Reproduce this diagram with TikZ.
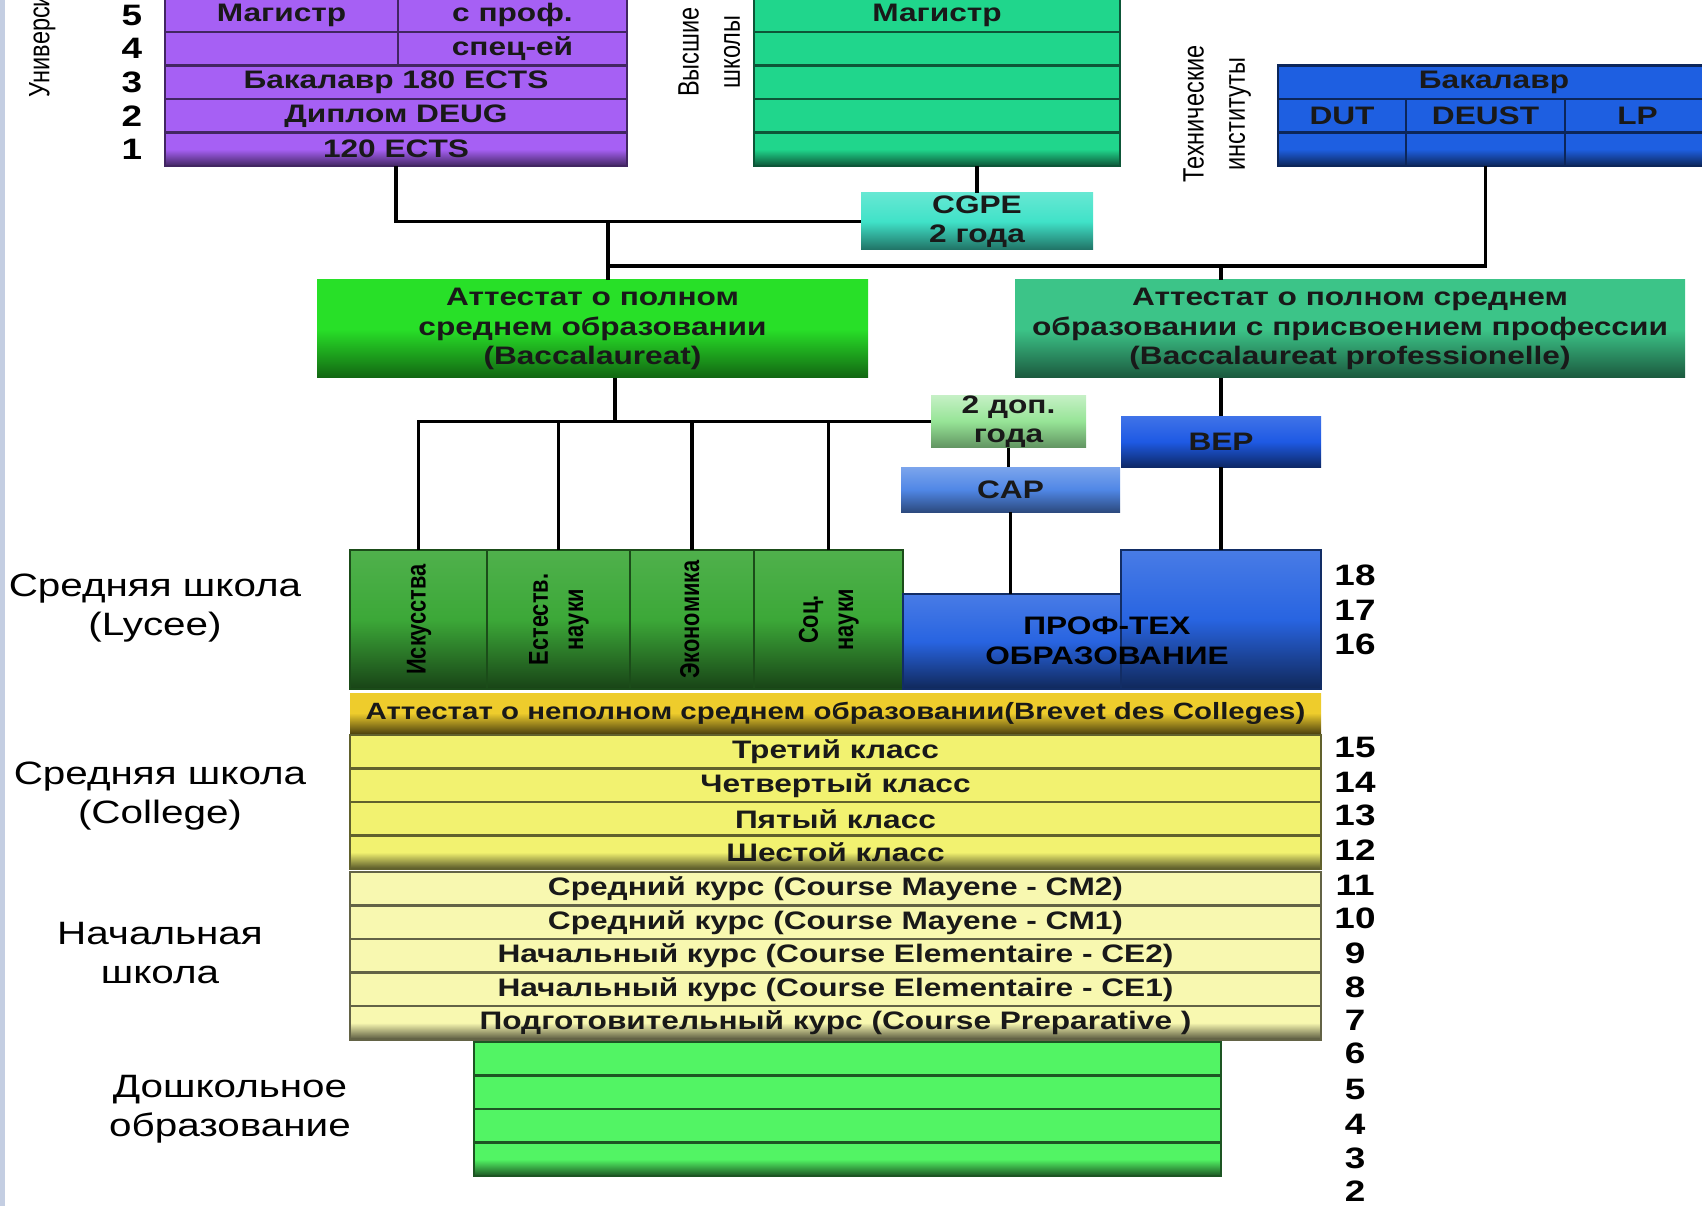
\documentclass[tikz,border=0pt]{standalone}
\usepackage{fontspec}
\usepackage{graphicx}
\setmainfont{Liberation Sans}[FakeStretch=1.25]
\newfontfamily\rotfont{Liberation Sans}
\usepackage{tikz}
\usetikzlibrary{shapes.geometric, arrows}

\definecolor{univc}{RGB}{166,96,244}
\definecolor{vysc}{RGB}{32,214,140}
\definecolor{techc}{RGB}{30,95,225}
\definecolor{cgpec}{RGB}{64,226,200}
\definecolor{attlc}{RGB}{40,224,40}
\definecolor{attrc}{RGB}{60,196,136}
\definecolor{dopc}{RGB}{150,228,150}
\definecolor{capc}{RGB}{80,135,230}
\definecolor{bepc}{RGB}{30,90,228}
\definecolor{lycc}{RGB}{60,168,56}
\definecolor{profc}{RGB}{40,100,225}
\definecolor{brevc}{RGB}{238,204,44}
\definecolor{collc}{RGB}{242,242,112}
\definecolor{primc}{RGB}{248,248,176}
\definecolor{presc}{RGB}{82,244,100}
\definecolor{stripc}{RGB}{196,206,226}

\newcommand{\boxfont}{\fontsize{7.2}{8.4}\selectfont\bfseries}
\newcommand{\brevfont}{\fontsize{6.7}{8}\selectfont\bfseries}
\newcommand{\sidefont}{\fontsize{9.2}{11}\selectfont}
\newcommand{\agefont}{\fontsize{8.4}{10}\selectfont\bfseries}
\newcommand{\vlabel}[1]{\scalebox{1}[1.25]{\rotfont\fontsize{6.7}{9.4}\selectfont\begin{tabular}{@{}c@{}}#1\end{tabular}}}
\newcommand{\vsubject}[1]{\scalebox{1}[1.25]{\rotfont\fontsize{6.2}{8}\selectfont\bfseries\begin{tabular}{@{}c@{}}#1\end{tabular}}}

\tikzstyle{cell} = [rectangle,
					minimum height=3.35mm,
					inner sep=0pt,
					outer sep=0pt,
					line width=0.6pt,
					font=\boxfont,
					text=black!90,
					align=center,
				   ]
\tikzstyle{univrow} = [cell, fill=univc, draw=univc!40!black]
\tikzstyle{univend} = [cell, top color=univc, bottom color=univc!40!black, middle color=univc, draw=univc!40!black]
\tikzstyle{vysrow} = [cell, fill=vysc, draw=vysc!40!black]
\tikzstyle{vysend} = [cell, top color=vysc, bottom color=vysc!40!black, middle color=vysc, draw=vysc!40!black]
\tikzstyle{techrow} = [cell, fill=techc, draw=techc!40!black]
\tikzstyle{techend} = [cell, top color=techc, bottom color=techc!40!black, middle color=techc, draw=techc!40!black]
\tikzstyle{cgpebox} = [cell, top color=cgpec!80!white, bottom color=cgpec!50!black, middle color=cgpec]
\tikzstyle{attlbox} = [cell, top color=attlc, bottom color=attlc!45!black, middle color=attlc]
\tikzstyle{attrbox} = [cell, top color=attrc, bottom color=attrc!45!black, middle color=attrc]
\tikzstyle{dopbox} = [cell, top color=dopc!55!white, bottom color=dopc!65!black, middle color=dopc]
\tikzstyle{capbox} = [cell, top color=capc!75!white, bottom color=capc!55!black, middle color=capc]
\tikzstyle{bepbox} = [cell, top color=bepc!85!white, bottom color=bepc!45!black, middle color=bepc]
\tikzstyle{lycbox} = [cell, top color=lycc!90!white, bottom color=lycc!40!black, middle color=lycc, draw=lycc!45!black]
\tikzstyle{profbox} = [cell, top color=profc!85!white, bottom color=profc!40!black, middle color=profc, draw=profc!45!black]
\tikzstyle{brevbox} = [cell, font=\brevfont, top color=brevc, bottom color=brevc!35!black, middle color=brevc]
\tikzstyle{collrow} = [cell, fill=collc, draw=collc!40!black]
\tikzstyle{collend} = [cell, top color=collc, bottom color=collc!35!black, middle color=collc, draw=collc!40!black]
\tikzstyle{primrow} = [cell, fill=primc, draw=primc!40!black]
\tikzstyle{primend} = [cell, top color=primc, bottom color=primc!35!black, middle color=primc, draw=primc!40!black]
\tikzstyle{presrow} = [cell, fill=presc, draw=presc!35!black]
\tikzstyle{presend} = [cell, top color=presc, bottom color=presc!35!black, middle color=presc, draw=presc!35!black]
\tikzstyle{age} = [font=\agefont, inner sep=0pt]
\tikzstyle{side} = [font=\sidefont, align=center, inner sep=0pt]
\tikzstyle{link} = [line width=1pt, black]

\begin{document}
\begin{tikzpicture}[x=0.1mm, y=-0.1mm, node distance=3.35mm]
\useasboundingbox (0,0) rectangle (1702,1206);
\clip (0,0) rectangle (1702,1206);
\fill [stripc] (0,0) rectangle (5,1206);

% universities
\node (u5l) [univrow, minimum width=23.3mm] at (281.5,15.25) {Магистр};
\node (u5r) [univrow, minimum width=22.9mm] at (512.5,15.25) {с проф.};
\node (u4l) [univrow, minimum width=23.3mm, below of=u5l] {};
\node (u4r) [univrow, minimum width=22.9mm, below of=u5r] {спец-ей};
\node (u3) [univrow, minimum width=46.2mm] at (396,82.25) {Бакалавр 180 ECTS};
\node (u2) [univrow, minimum width=46.2mm, below of=u3] {Диплом DEUG};
\node (u1) [univend, minimum width=46.2mm, below of=u2] {120 ECTS};
\node (univlab) [rotate=90, anchor=west, inner sep=0pt] at (41,98) {\vlabel{Университеты}};
\node (n5) [age] at (132,15.25) {5};
\node (n4) [age] at (132,48.75) {4};
\node (n3) [age] at (132,82.25) {3};
\node (n2) [age] at (132,115.75) {2};
\node (n1) [age] at (132,149.25) {1};

% higher schools
\node (vys5) [vysrow, minimum width=36.6mm] at (937,15.25) {Магистр};
\node (vys4) [vysrow, minimum width=36.6mm, below of=vys5] {};
\node (vys3) [vysrow, minimum width=36.6mm, below of=vys4] {};
\node (vys2) [vysrow, minimum width=36.6mm, below of=vys3] {};
\node (vys1) [vysend, minimum width=36.6mm, below of=vys2] {};
\node (vyslab) [rotate=90, inner sep=0pt] at (711,52) {\vlabel{Высшие\\школы}};

% technical institutes
\node (tb) [techrow, minimum width=43.2mm] at (1494,82.25) {Бакалавр};
\node (t21) [techrow, minimum width=12.8mm] at (1342,115.75) {DUT};
\node (t22) [techrow, minimum width=15.9mm] at (1485.5,115.75) {DEUST};
\node (t23) [techrow, minimum width=14.5mm] at (1637.5,115.75) {LP};
\node (t31) [techend, minimum width=12.8mm, below of=t21] {};
\node (t32) [techend, minimum width=15.9mm, below of=t22] {};
\node (t33) [techend, minimum width=14.5mm, below of=t23] {};
\node (techlab) [rotate=90, inner sep=0pt] at (1216,114) {\vlabel{Технические\\институты}};

\node (cgpe) [cgpebox, minimum width=23.2mm, minimum height=5.7mm] at (977,221.5) {CGPE\\2 года};

% baccalaureat
\node (atl) [attlbox, minimum width=55.1mm, minimum height=9.8mm] at (592.5,329) {Аттестат о полном\\среднем образовании\\(Baccalaureat)};
\node (atr) [attrbox, minimum width=67mm, minimum height=9.8mm] at (1350,329) {Аттестат о полном среднем\\образовании с присвоением профессии\\(Baccalaureat professionelle)};
\node (dop) [dopbox, minimum width=15.5mm, minimum height=5.1mm] at (1008.5,421.5) {2 доп.\\года};
\node (cap) [capbox, minimum width=21.9mm, minimum height=4.5mm] at (1010.5,489.5) {CAP};
\node (bep) [bepbox, minimum width=20mm, minimum height=5.1mm] at (1221,441.5) {BEP};

% lycee
\node (ly1) [lycbox, minimum width=13.7mm, minimum height=13.9mm] at (418.5,619.5) {};
\node (ly2) [lycbox, minimum width=14.3mm, minimum height=13.9mm] at (558.5,619.5) {};
\node (ly3) [lycbox, minimum width=12.4mm, minimum height=13.9mm] at (692,619.5) {};
\node (ly4) [lycbox, minimum width=14.9mm, minimum height=13.9mm] at (828.5,619.5) {};
\node (ly1t) [rotate=90, inner sep=0pt] at (ly1) {\vsubject{Искусства}};
\node (ly2t) [rotate=90, inner sep=0pt] at (ly2) {\vsubject{Естеств.\\науки}};
\node (ly3t) [rotate=90, inner sep=0pt] at (ly3) {\vsubject{Экономика}};
\node (ly4t) [rotate=90, inner sep=0pt] at (ly4) {\vsubject{Соц.\\науки}};
\node (profl) [profbox, minimum width=21.8mm, minimum height=9.5mm] at (1012,641.5) {};
\node (profr) [profbox, minimum width=20mm, minimum height=13.9mm] at (1221,619.5) {};
\node (proft) [font=\boxfont, align=center, inner sep=0pt] at (1107,641) {ПРОФ-ТЕХ\\ОБРАЗОВАНИЕ};
\node (lyclab) [side] at (155,608) {Средняя школа\\(Lycee)};

\node (brev) [brevbox, minimum width=97.1mm, minimum height=4mm] at (835.5,713) {Аттестат о неполном среднем образовании(Brevet des Colleges)};

% college
\node (col1) [collrow, minimum width=97.1mm] at (835.5,751.75) {Третий класс};
\node (col2) [collrow, minimum width=97.1mm, below of=col1] {Четвертый класс};
\node (col3) [collrow, minimum width=97.1mm, below of=col2] {Пятый класс};
\node (col4) [collend, minimum width=97.1mm, below of=col3] {Шестой класс};
\node (collab) [side] at (160,796) {Средняя школа\\(College)};

% primary
\node (pr1) [primrow, minimum width=97.1mm] at (835.5,888.75) {Средний курс (Course Mayene - CM2)};
\node (pr2) [primrow, minimum width=97.1mm, below of=pr1] {Средний курс (Course Mayene - CM1)};
\node (pr3) [primrow, minimum width=97.1mm, below of=pr2] {Начальный курс (Course Elementaire - CE2)};
\node (pr4) [primrow, minimum width=97.1mm, below of=pr3] {Начальный курс (Course Elementaire - CE1)};
\node (pr5) [primend, minimum width=97.1mm, below of=pr4] {Подготовительный курс (Course Preparative )};
\node (primlab) [side] at (160,953) {Начальная\\школа};

% preschool
\node (ps1) [presrow, minimum width=74.7mm] at (847.5,1058.75) {};
\node (ps2) [presrow, minimum width=74.7mm, below of=ps1] {};
\node (ps3) [presrow, minimum width=74.7mm, below of=ps2] {};
\node (ps4) [presend, minimum width=74.7mm, below of=ps3] {};
\node (preslab) [side] at (230,1109) {Дошкольное\\образование};

% ages
\node (a18) [age] at (1355,575) {18};
\node (a17) [age] at (1355,610) {17};
\node (a16) [age] at (1355,644) {16};
\node (a15) [age] at (1355,747) {15};
\node (a14) [age] at (1355,782) {14};
\node (a13) [age] at (1355,815) {13};
\node (a12) [age] at (1355,850) {12};
\node (a11) [age] at (1355,885) {11};
\node (a10) [age] at (1355,918) {10};
\node (a9) [age] at (1355,953) {9};
\node (a8) [age] at (1355,987) {8};
\node (a7) [age] at (1355,1020) {7};
\node (a6) [age] at (1355,1053) {6};
\node (a5) [age] at (1355,1089) {5};
\node (a4) [age] at (1355,1124) {4};
\node (a3) [age] at (1355,1158) {3};
\node (a2) [age] at (1355,1191) {2};

% connectors
\coordinate (jtop) at (608,221.5);
\coordinate (jbus) at (608,266);
\coordinate (jlow) at (615,378);
\draw [link] (u1.south) |- (cgpe.west);
\draw [link] (cgpe.north) -- (cgpe.north |- vys1.south);
\draw [link] (jtop) -- (jtop |- atl.north);
\draw [link] (jbus) -| (t32.south);
\draw [link] (bep.north |- jbus) -- (bep.north |- atr.north);
\draw [link] (bep.north |- atr.south) -- (bep.north);
\draw [link] (jlow) -- (jlow |- dop.west);
\draw [link] (ly1.north) |- (dop.west);
\draw [link] (ly2.north) -- (ly2.north |- dop.west);
\draw [link] (ly3.north) -- (ly3.north |- dop.west);
\draw [link] (ly4.north) -- (ly4.north |- dop.west);
\draw [link] (dop.south) -- (dop.south |- cap.north);
\draw [link] (cap.south) -- (cap.south |- profl.north);
\draw [link] (bep.south) -- (profr.north);

\end{tikzpicture}
\end{document}
